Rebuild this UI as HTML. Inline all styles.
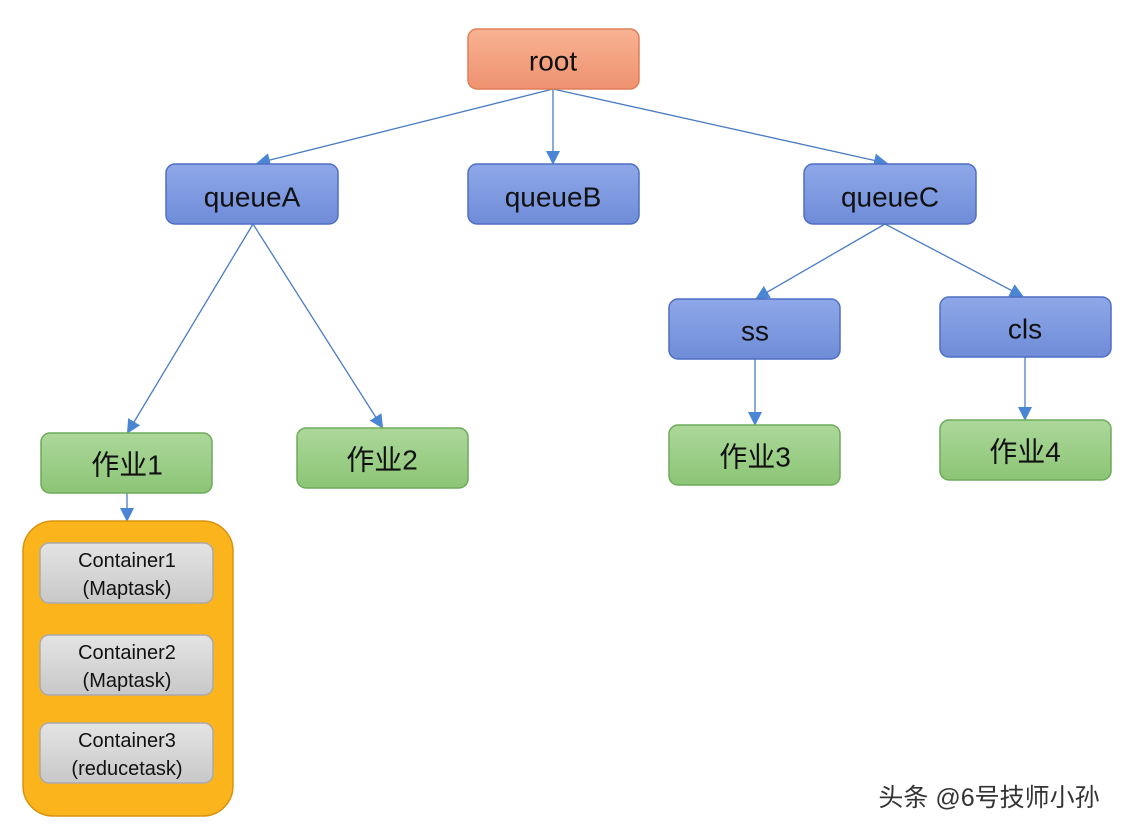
<!DOCTYPE html>
<html><head><meta charset="utf-8"><style>
body{margin:0;background:#fff;}
svg{display:block}
text{font-family:"Liberation Sans","Noto Sans CJK SC",sans-serif;fill:#111;text-anchor:middle;dominant-baseline:central}
</style></head><body>
<svg width="1140" height="836" viewBox="0 0 1140 836">
<defs>
<linearGradient id="o" x1="0" y1="0" x2="0" y2="1"><stop offset="0" stop-color="#f8b393"/><stop offset="1" stop-color="#ef9270"/></linearGradient>
<linearGradient id="b" x1="0" y1="0" x2="0" y2="1"><stop offset="0" stop-color="#8ea8e8"/><stop offset="1" stop-color="#6f8cd8"/></linearGradient>
<linearGradient id="g" x1="0" y1="0" x2="0" y2="1"><stop offset="0" stop-color="#acd89a"/><stop offset="1" stop-color="#8cc576"/></linearGradient>
<linearGradient id="gr" x1="0" y1="0" x2="0" y2="1"><stop offset="0" stop-color="#e4e4e4"/><stop offset="1" stop-color="#c8c8c8"/></linearGradient>
<marker id="a" markerWidth="14" markerHeight="14" refX="12" refY="7" orient="auto" markerUnits="userSpaceOnUse"><path d="M0,0 L14,7 L0,14 z" fill="#4a86d4"/></marker>
</defs>
<g stroke="#4a7cc4" stroke-width="1.3" fill="none" marker-end="url(#a)">
<line x1="553" y1="89" x2="258" y2="163"/>
<line x1="553" y1="89" x2="553" y2="163"/>
<line x1="553" y1="89" x2="886" y2="163"/>
<line x1="253" y1="224" x2="128" y2="432"/>
<line x1="253" y1="224" x2="382" y2="427"/>
<line x1="885" y1="224" x2="757" y2="298"/>
<line x1="885" y1="224" x2="1022" y2="296"/>
<line x1="755" y1="359" x2="755" y2="424"/>
<line x1="1025" y1="357" x2="1025" y2="419"/>
<line x1="127" y1="493" x2="127" y2="520"/>
</g>
<g stroke-width="1.5">
<rect x="468" y="29" width="171" height="60" rx="9" fill="url(#o)" stroke="#e07f58"/>
<rect x="166" y="164" width="172" height="60" rx="9" fill="url(#b)" stroke="#4f6fc2"/>
<rect x="468" y="164" width="171" height="60" rx="9" fill="url(#b)" stroke="#4f6fc2"/>
<rect x="804" y="164" width="172" height="60" rx="9" fill="url(#b)" stroke="#4f6fc2"/>
<rect x="669" y="299" width="171" height="60" rx="9" fill="url(#b)" stroke="#4f6fc2"/>
<rect x="940" y="297" width="171" height="60" rx="9" fill="url(#b)" stroke="#4f6fc2"/>
<rect x="41" y="433" width="171" height="60" rx="9" fill="url(#g)" stroke="#6faa5c"/>
<rect x="297" y="428" width="171" height="60" rx="9" fill="url(#g)" stroke="#6faa5c"/>
<rect x="669" y="425" width="171" height="60" rx="9" fill="url(#g)" stroke="#6faa5c"/>
<rect x="940" y="420" width="171" height="60" rx="9" fill="url(#g)" stroke="#6faa5c"/>
<rect x="23" y="521" width="210" height="295" rx="30" fill="#fbb41c" stroke="#d89410"/>
<rect x="40" y="543" width="173" height="60" rx="9" fill="url(#gr)" stroke="#aaa"/>
<rect x="40" y="635" width="173" height="60" rx="9" fill="url(#gr)" stroke="#aaa"/>
<rect x="40" y="723" width="173" height="60" rx="9" fill="url(#gr)" stroke="#aaa"/>
</g>
<g font-size="28">
<text x="553" y="61">root</text>
<text x="252" y="197">queueA</text>
<text x="553" y="197">queueB</text>
<text x="890" y="197">queueC</text>
<text x="755" y="331">ss</text>
<text x="1025" y="329">cls</text>
<text x="127" y="465">作业1</text>
<text x="382" y="460">作业2</text>
<text x="755" y="457">作业3</text>
<text x="1025" y="452">作业4</text>
</g>
<g font-size="20">
<text x="127" y="561">Container1</text><text x="127" y="589">(Maptask)</text>
<text x="127" y="653">Container2</text><text x="127" y="681">(Maptask)</text>
<text x="127" y="741">Container3</text><text x="127" y="769">(reducetask)</text>
</g>
<text x="989" y="798" font-size="25" style="fill:#333">头条 @6号技师小孙</text>
</svg>
</body></html>
